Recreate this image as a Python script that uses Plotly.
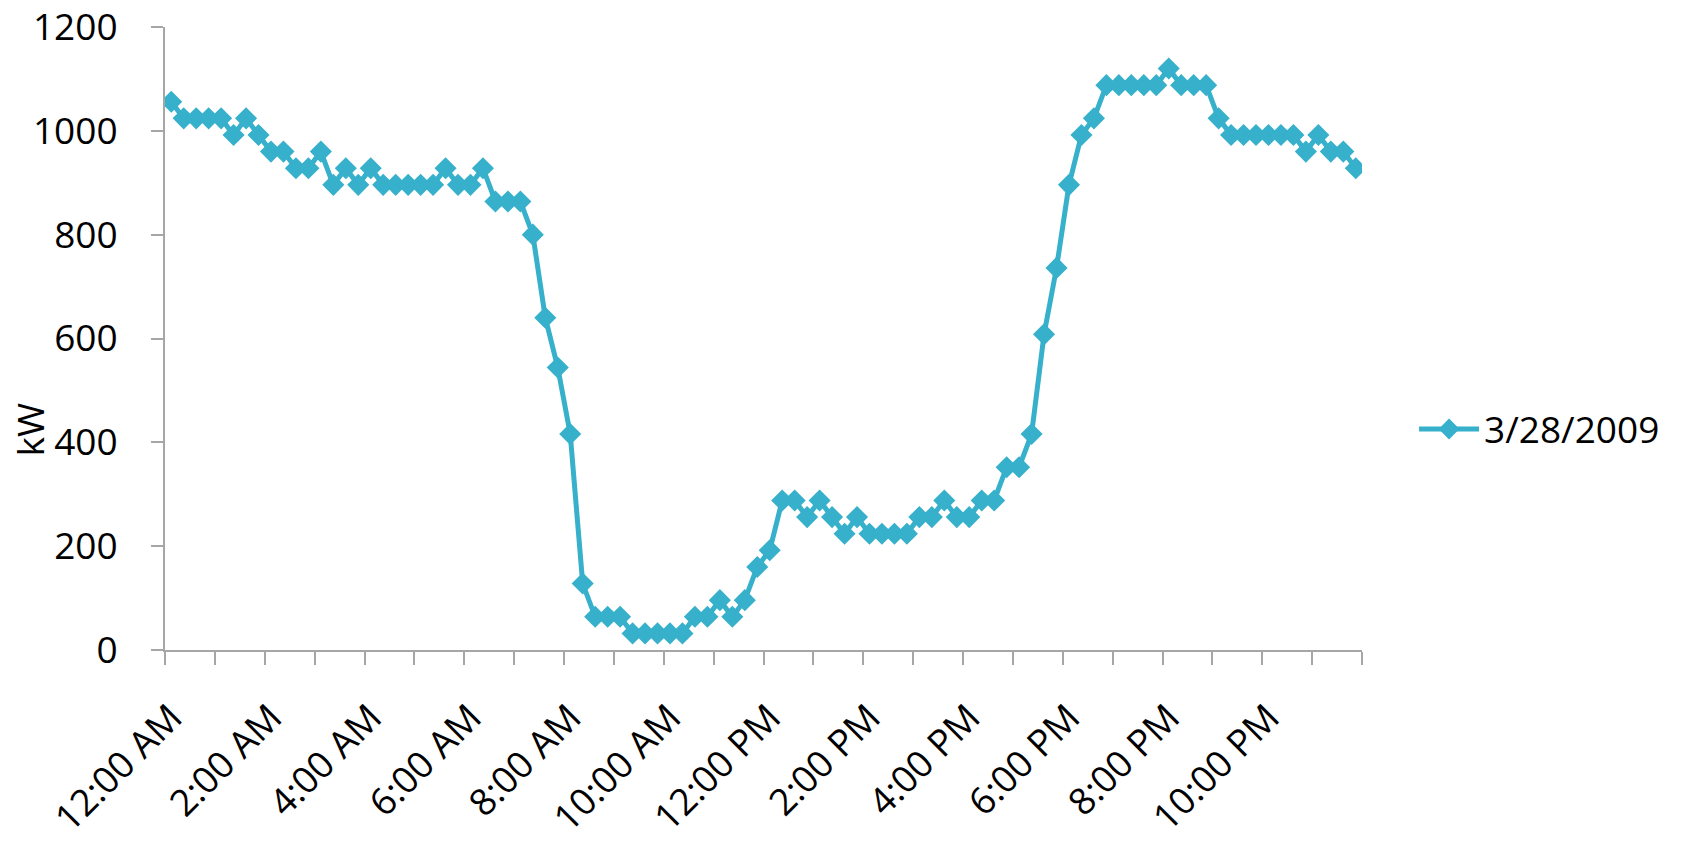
import plotly.graph_objects as go

# 15-minute intervals over 3/28/2009 (96 readings)
times = [f"{(h % 12) or 12}:{m:02d} {'AM' if h < 12 else 'PM'}" for h in range(24) for m in (0, 15, 30, 45)]
kw = [
    1056, 1024, 1024, 1024, 1024, 992, 1024, 992,
    960, 960, 928, 928, 960, 896, 928, 896,
    928, 896, 896, 896, 896, 896, 928, 896,
    896, 928, 864, 864, 864, 800, 640, 544,
    416, 128, 64, 64, 64, 32, 32, 32,
    32, 32, 64, 64, 96, 64, 96, 160,
    192, 288, 288, 256, 288, 256, 224, 256,
    224, 224, 224, 224, 256, 256, 288, 256,
    256, 288, 288, 352, 352, 416, 608, 736,
    896, 992, 1024, 1088, 1088, 1088, 1088, 1088,
    1120, 1088, 1088, 1088, 1024, 992, 992, 992,
    992, 992, 992, 960, 992, 960, 960, 928,
]
series_name = "3/28/2009"
y_title = "kW"
label_every = 8   # a label every 2 hours
tick_every = 4    # a tick every hour

idx = list(range(len(kw)))
label_pos = idx[::label_every]
label_text = [times[i] for i in label_pos]
tick_pos = [i - 0.5 for i in range(0, len(kw) + 1, tick_every)]

color = "#36B0CB"
axis_color = "#A6A6A6"
font_family = "Open Sans, DejaVu Sans, sans-serif"
fs = 37

fig = go.Figure()
fig.add_trace(go.Scatter(
    x=idx, y=kw, mode="lines+markers", name=series_name,
    line=dict(color=color, width=5),
    marker=dict(symbol="diamond", size=17, color=color),
    hovertext=times, hoverinfo="text+y",
))

fig.update_layout(
    width=1700, height=841,
    paper_bgcolor="white", plot_bgcolor="white",
    margin=dict(l=165, r=338, t=27, b=191, autoexpand=False),
    font=dict(family=font_family, size=fs, color="black"),
    showlegend=True,
    legend=dict(x=1.0435, y=0.354, xanchor="left", yanchor="middle",
                font=dict(size=fs), itemwidth=60, bgcolor="rgba(0,0,0,0)"),
    xaxis=dict(
        range=[-0.5, len(kw) - 0.5], automargin=False,
        tickmode="array", tickvals=label_pos, ticktext=label_text,
        tickangle=-45, ticks="", showgrid=False, zeroline=False,
        showline=True, linecolor=axis_color, linewidth=2,
        tickfont=dict(size=fs), ticklabelstandoff=29, ticklabeloverflow="allow",
        minor=dict(tickmode="array", tickvals=tick_pos, ticks="outside",
                   ticklen=13, tickwidth=2, tickcolor=axis_color, showgrid=False),
    ),
    yaxis=dict(
        range=[0, 1200], dtick=200, tick0=0, automargin=False,
        ticks="outside", ticklen=12, tickwidth=2, tickcolor=axis_color,
        showline=True, linecolor=axis_color, linewidth=2,
        showgrid=False, zeroline=False,
        tickfont=dict(size=fs), ticklabelstandoff=26, ticklabeloverflow="allow",
    ),
    annotations=[dict(
        text=y_title, textangle=-90, showarrow=False,
        xref="paper", yref="paper", x=-0.1136, y=0.354,
        xanchor="center", yanchor="middle", font=dict(size=fs),
    )],
)

fig.write_html("out.html", config={"displayModeBar": False},
               post_script="document.body.style.margin='0';")
